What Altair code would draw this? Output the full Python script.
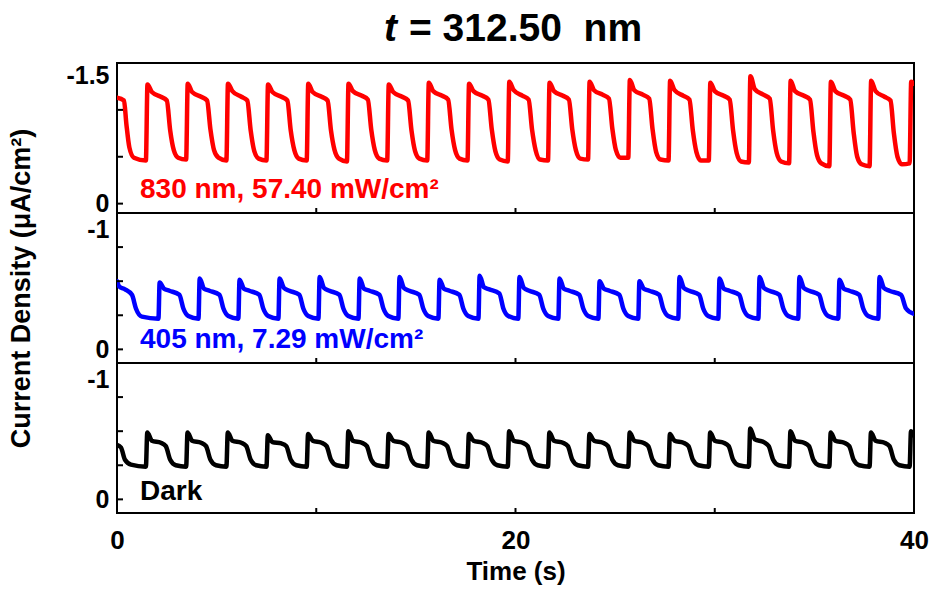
import altair as alt
import pandas as pd

# ---------------- data ----------------
# 830 nm, 57.40 mW/cm2 (red) : time (s) and current density (uA/cm2), per cycle
red_t = [
    [0.00, 0.35, 0.47, 0.62, 0.85],
    [1.45, 1.53, 1.75, 2.20, 2.50, 2.67, 2.85, 3.07],
    [3.47, 3.55, 3.77, 4.22, 4.52, 4.69, 4.87, 5.09],
    [5.49, 5.57, 5.79, 6.24, 6.54, 6.71, 6.89, 7.11],
    [7.50, 7.58, 7.80, 8.25, 8.55, 8.72, 8.90, 9.12],
    [9.52, 9.60, 9.82, 10.27, 10.57, 10.74, 10.92, 11.14],
    [11.54, 11.62, 11.84, 12.29, 12.59, 12.76, 12.94, 13.16],
    [13.56, 13.64, 13.86, 14.31, 14.61, 14.78, 14.96, 15.18],
    [15.57, 15.65, 15.87, 16.32, 16.62, 16.79, 16.97, 17.19],
    [17.59, 17.67, 17.89, 18.34, 18.64, 18.81, 18.99, 19.21],
    [19.61, 19.69, 19.91, 20.36, 20.66, 20.83, 21.01, 21.23],
    [21.63, 21.71, 21.93, 22.38, 22.68, 22.85, 23.03, 23.25],
    [23.64, 23.72, 23.94, 24.39, 24.69, 24.86, 25.04, 25.26],
    [25.66, 25.74, 25.96, 26.41, 26.71, 26.88, 27.06, 27.28],
    [27.68, 27.76, 27.98, 28.43, 28.73, 28.90, 29.08, 29.30],
    [29.70, 29.78, 30.00, 30.45, 30.75, 30.92, 31.10, 31.32],
    [31.71, 31.79, 32.01, 32.46, 32.76, 32.93, 33.11, 33.33],
    [33.73, 33.81, 34.03, 34.48, 34.78, 34.95, 35.13, 35.35],
    [35.75, 35.83, 36.05, 36.50, 36.80, 36.97, 37.15, 37.37],
    [37.77, 37.85, 38.07, 38.52, 38.82, 38.99, 39.17, 39.39],
    [39.78, 39.86, 40.00],
]
red_v = [
    [-1.13, -1.10, -0.85, -0.60, -0.49],
    [-0.46, -1.27, -1.19, -1.14, -1.10, -0.78, -0.57, -0.49],
    [-0.47, -1.28, -1.19, -1.14, -1.10, -0.79, -0.57, -0.49],
    [-0.46, -1.28, -1.20, -1.14, -1.10, -0.78, -0.56, -0.48],
    [-0.46, -1.27, -1.19, -1.14, -1.10, -0.78, -0.57, -0.48],
    [-0.46, -1.28, -1.19, -1.14, -1.10, -0.78, -0.57, -0.48],
    [-0.45, -1.28, -1.20, -1.15, -1.11, -0.79, -0.57, -0.48],
    [-0.46, -1.27, -1.19, -1.14, -1.10, -0.78, -0.56, -0.48],
    [-0.46, -1.29, -1.20, -1.15, -1.11, -0.79, -0.57, -0.48],
    [-0.46, -1.28, -1.20, -1.15, -1.11, -0.79, -0.56, -0.47],
    [-0.45, -1.30, -1.21, -1.15, -1.11, -0.79, -0.57, -0.47],
    [-0.46, -1.29, -1.20, -1.15, -1.11, -0.79, -0.57, -0.48],
    [-0.47, -1.30, -1.21, -1.16, -1.12, -0.80, -0.57, -0.49],
    [-0.49, -1.32, -1.21, -1.16, -1.12, -0.79, -0.55, -0.47],
    [-0.46, -1.31, -1.21, -1.15, -1.11, -0.78, -0.55, -0.46],
    [-0.46, -1.29, -1.20, -1.15, -1.11, -0.78, -0.54, -0.45],
    [-0.44, -1.36, -1.22, -1.16, -1.12, -0.78, -0.54, -0.45],
    [-0.43, -1.31, -1.20, -1.15, -1.11, -0.77, -0.52, -0.43],
    [-0.40, -1.30, -1.20, -1.15, -1.11, -0.76, -0.50, -0.42],
    [-0.40, -1.31, -1.20, -1.14, -1.10, -0.75, -0.50, -0.42],
    [-0.43, -1.30, -1.28],
]

# 405 nm, 7.29 mW/cm2 (blue)
blue_t = [
    [0.00, 0.12, 0.40, 0.75, 0.95, 1.25],
    [2.08, 2.14, 2.36, 2.63, 3.13, 3.33, 3.58],
    [4.09, 4.15, 4.37, 4.64, 5.14, 5.34, 5.59],
    [6.09, 6.15, 6.37, 6.64, 7.14, 7.34, 7.59],
    [8.10, 8.16, 8.38, 8.65, 9.15, 9.35, 9.60],
    [10.11, 10.17, 10.39, 10.66, 11.16, 11.36, 11.61],
    [12.12, 12.18, 12.40, 12.67, 13.17, 13.37, 13.62],
    [14.12, 14.18, 14.40, 14.67, 15.17, 15.37, 15.62],
    [16.13, 16.19, 16.41, 16.68, 17.18, 17.38, 17.63],
    [18.14, 18.20, 18.42, 18.69, 19.19, 19.39, 19.64],
    [20.14, 20.20, 20.42, 20.69, 21.19, 21.39, 21.64],
    [22.15, 22.21, 22.43, 22.70, 23.20, 23.40, 23.65],
    [24.16, 24.22, 24.44, 24.71, 25.21, 25.41, 25.66],
    [26.16, 26.22, 26.44, 26.71, 27.21, 27.41, 27.66],
    [28.17, 28.23, 28.45, 28.72, 29.22, 29.42, 29.67],
    [30.18, 30.24, 30.46, 30.73, 31.23, 31.43, 31.68],
    [32.19, 32.25, 32.47, 32.74, 33.24, 33.44, 33.69],
    [34.19, 34.25, 34.47, 34.74, 35.24, 35.44, 35.69],
    [36.20, 36.26, 36.48, 36.75, 37.25, 37.45, 37.70],
    [38.21, 38.27, 38.49, 38.76, 39.35, 39.60, 40.00],
]
blue_v = [
    [-0.50, -0.46, -0.44, -0.40, -0.30, -0.24],
    [-0.225, -0.49, -0.445, -0.43, -0.40, -0.30, -0.245],
    [-0.225, -0.52, -0.445, -0.43, -0.40, -0.30, -0.245],
    [-0.225, -0.51, -0.445, -0.43, -0.40, -0.30, -0.245],
    [-0.225, -0.52, -0.450, -0.43, -0.40, -0.30, -0.245],
    [-0.225, -0.53, -0.450, -0.43, -0.40, -0.30, -0.245],
    [-0.225, -0.52, -0.445, -0.43, -0.40, -0.30, -0.245],
    [-0.225, -0.53, -0.450, -0.43, -0.40, -0.30, -0.245],
    [-0.225, -0.51, -0.445, -0.43, -0.40, -0.30, -0.245],
    [-0.225, -0.54, -0.455, -0.44, -0.41, -0.30, -0.245],
    [-0.225, -0.53, -0.450, -0.43, -0.40, -0.30, -0.245],
    [-0.225, -0.52, -0.445, -0.43, -0.40, -0.30, -0.245],
    [-0.225, -0.50, -0.445, -0.43, -0.40, -0.30, -0.245],
    [-0.225, -0.50, -0.445, -0.43, -0.40, -0.30, -0.245],
    [-0.225, -0.53, -0.450, -0.43, -0.40, -0.30, -0.245],
    [-0.225, -0.52, -0.445, -0.43, -0.40, -0.30, -0.245],
    [-0.225, -0.53, -0.450, -0.43, -0.40, -0.30, -0.245],
    [-0.225, -0.53, -0.450, -0.43, -0.40, -0.30, -0.245],
    [-0.225, -0.51, -0.445, -0.43, -0.40, -0.30, -0.245],
    [-0.225, -0.53, -0.450, -0.43, -0.40, -0.30, -0.26],
]

# Dark (black)
dark_t = [
    [0.00, 0.20, 0.40, 0.70],
    [1.45, 1.52, 1.75, 2.20, 2.45, 2.67, 2.95],
    [3.47, 3.54, 3.77, 4.22, 4.47, 4.69, 4.97],
    [5.49, 5.56, 5.79, 6.24, 6.49, 6.71, 6.99],
    [7.50, 7.57, 7.80, 8.25, 8.50, 8.72, 9.00],
    [9.52, 9.59, 9.82, 10.27, 10.52, 10.74, 11.02],
    [11.54, 11.61, 11.84, 12.29, 12.54, 12.76, 13.04],
    [13.56, 13.63, 13.86, 14.31, 14.56, 14.78, 15.06],
    [15.57, 15.64, 15.87, 16.32, 16.57, 16.79, 17.07],
    [17.59, 17.66, 17.89, 18.34, 18.59, 18.81, 19.09],
    [19.61, 19.68, 19.91, 20.36, 20.61, 20.83, 21.11],
    [21.63, 21.70, 21.93, 22.38, 22.63, 22.85, 23.13],
    [23.64, 23.71, 23.94, 24.39, 24.64, 24.86, 25.14],
    [25.66, 25.73, 25.96, 26.41, 26.66, 26.88, 27.16],
    [27.68, 27.75, 27.98, 28.43, 28.68, 28.90, 29.18],
    [29.70, 29.77, 30.00, 30.45, 30.70, 30.92, 31.20],
    [31.71, 31.78, 32.01, 32.46, 32.71, 32.93, 33.21],
    [33.73, 33.80, 34.03, 34.48, 34.73, 34.95, 35.23],
    [35.75, 35.82, 36.05, 36.50, 36.75, 36.97, 37.25],
    [37.77, 37.84, 38.07, 38.52, 38.77, 38.99, 39.27],
    [39.78, 39.85, 40.00],
]
dark_v = [
    [-0.40, -0.38, -0.29, -0.255],
    [-0.24, -0.49, -0.43, -0.415, -0.39, -0.29, -0.25],
    [-0.24, -0.49, -0.43, -0.415, -0.39, -0.29, -0.25],
    [-0.24, -0.49, -0.43, -0.415, -0.39, -0.29, -0.25],
    [-0.24, -0.47, -0.42, -0.410, -0.39, -0.29, -0.25],
    [-0.24, -0.48, -0.43, -0.415, -0.39, -0.29, -0.25],
    [-0.24, -0.50, -0.43, -0.415, -0.39, -0.29, -0.25],
    [-0.24, -0.48, -0.43, -0.415, -0.39, -0.29, -0.25],
    [-0.24, -0.49, -0.43, -0.415, -0.39, -0.29, -0.25],
    [-0.24, -0.48, -0.43, -0.415, -0.39, -0.29, -0.25],
    [-0.24, -0.50, -0.43, -0.415, -0.39, -0.29, -0.25],
    [-0.24, -0.49, -0.43, -0.415, -0.39, -0.29, -0.25],
    [-0.24, -0.48, -0.43, -0.415, -0.39, -0.29, -0.25],
    [-0.24, -0.49, -0.43, -0.415, -0.39, -0.29, -0.25],
    [-0.24, -0.48, -0.43, -0.415, -0.39, -0.29, -0.25],
    [-0.24, -0.49, -0.43, -0.415, -0.39, -0.29, -0.25],
    [-0.24, -0.52, -0.44, -0.420, -0.39, -0.29, -0.25],
    [-0.24, -0.50, -0.43, -0.415, -0.39, -0.29, -0.25],
    [-0.24, -0.49, -0.43, -0.415, -0.39, -0.29, -0.25],
    [-0.24, -0.49, -0.43, -0.415, -0.39, -0.29, -0.25],
    [-0.24, -0.50, -0.47],
]

x_tick_values = [10, 20, 30]
x_label_values = [0, 20, 40]
red_y_ticks = [-1.5, -1.0, -0.5, 0.0]
red_y_labels = [-1.5, 0.0]
small_y_ticks = [-1.0, -0.75, -0.5, -0.25, 0.0]
small_y_labels = [-1.0, 0.0]

title_t = "t"
title_rest = "= 312.50\u00a0 nm"
y_title = "Current Density (\u03bcA/cm\u00b2)"
x_title = "Time (s)"
labels = ["830 nm, 57.40 mW/cm\u00b2", "405 nm, 7.29 mW/cm\u00b2", "Dark"]

# ---------------- chart ----------------
FONT = "Liberation Sans"
W, H = 797, 150
X_SCALE = alt.Scale(domain=[0, 40], nice=False, zero=False)


def flat(rows):
    return [x for r in rows for x in r]


def y_axis(vals, with_title=False, flush_offset=0):
    kw = dict(values=vals,
              labelExpr="datum.value < 0 ? '-' + format(-datum.value, '') : '0'",
              ticks=False, tickSize=0, domain=False, grid=False, labelFlush=True,
              labelFlushOffset=flush_offset,
              labelFont=FONT, labelFontSize=25, labelFontWeight="bold",
              labelColor="black", labelPadding=8)
    if with_title:
        kw.update(title=y_title, titleFont=FONT, titleFontSize=27, titleFontWeight="bold",
                  titleColor="black", titleX=-82, titleY=H / 2)
    else:
        kw.update(title=None)
    return alt.Axis(**kw)


def panel(tv, vv, color, sw, lo, ylab, yticks, label, label_y, x_axis, with_title=False,
          flush_offset=0, extra=()):
    ys = alt.Scale(domain=[lo, 0.1], reverse=True, nice=False, zero=False)
    yax = y_axis(ylab, with_title, flush_offset)
    df = pd.DataFrame({"t": flat(tv), "v": flat(vv)})
    line = alt.Chart(df).mark_line(color=color, strokeWidth=sw, clip=True, interpolate="monotone",
                                   strokeJoin="round", strokeCap="round").encode(
        x=alt.X("t:Q", scale=X_SCALE, axis=x_axis),
        y=alt.Y("v:Q", scale=ys, axis=yax),
        order=alt.Order("t:Q"),
    )
    yt = alt.Chart(pd.DataFrame({"v": yticks})).mark_rule(color="black", strokeWidth=2).encode(
        y=alt.Y("v:Q", scale=ys, axis=yax), x=alt.value(0), x2=alt.value(6))
    xt = alt.Chart(pd.DataFrame({"t": x_tick_values})).mark_rule(color="black", strokeWidth=2).encode(
        x=alt.X("t:Q", scale=X_SCALE, axis=x_axis), y=alt.value(H), y2=alt.value(H - 5))
    txt = alt.Chart(pd.DataFrame({"s": [label]})).mark_text(
        font=FONT, fontSize=28, fontWeight="bold", color=color, align="left",
        baseline="alphabetic").encode(text="s:N", x=alt.value(23), y=alt.value(label_y))
    return alt.layer(line, yt, xt, txt, *extra).properties(width=W, height=H)


title1 = alt.Chart(pd.DataFrame({"s": [title_t]})).mark_text(
    font=FONT, fontSize=39, fontWeight="bold", fontStyle="italic", align="left",
    baseline="alphabetic", color="black").encode(text="s:N", x=alt.value(267), y=alt.value(-22))
title2 = alt.Chart(pd.DataFrame({"s": [title_rest]})).mark_text(
    font=FONT, fontSize=39, fontWeight="bold", align="left",
    baseline="alphabetic", color="black").encode(text="s:N", x=alt.value(292), y=alt.value(-22))

bottom_x_axis = alt.Axis(values=x_label_values, format="d", ticks=False, tickSize=0, domain=False,
                         grid=False, labelFlush=False, labelFont=FONT, labelFontSize=26,
                         labelFontWeight="bold", labelColor="black", labelPadding=14,
                         title=x_title, titleFont=FONT, titleFontSize=26, titleFontWeight="bold",
                         titleColor="black", titlePadding=5)

p1 = panel(red_t, red_v, "#ff0000", 4.5, -1.5, red_y_labels, red_y_ticks, labels[0], 135, None,
           extra=(title1, title2))
p2 = panel(blue_t, blue_v, "#0000ff", 4.5, -1.0, small_y_labels, small_y_ticks, labels[1], 135, None,
           with_title=True, flush_offset=-4)
p3 = panel(dark_t, dark_v, "black", 4.5, -1.0, small_y_labels, small_y_ticks, labels[2], 137,
           bottom_x_axis, flush_offset=-4)

chart = alt.vconcat(p1, p2, p3, spacing=0, bounds="flush").configure_view(
    stroke="black", strokeWidth=2).properties(
    padding={"left": 5, "top": 9, "right": 0, "bottom": 0}, background="white")

chart.save("out.html", embed_options={"renderer": "svg", "actions": False})
